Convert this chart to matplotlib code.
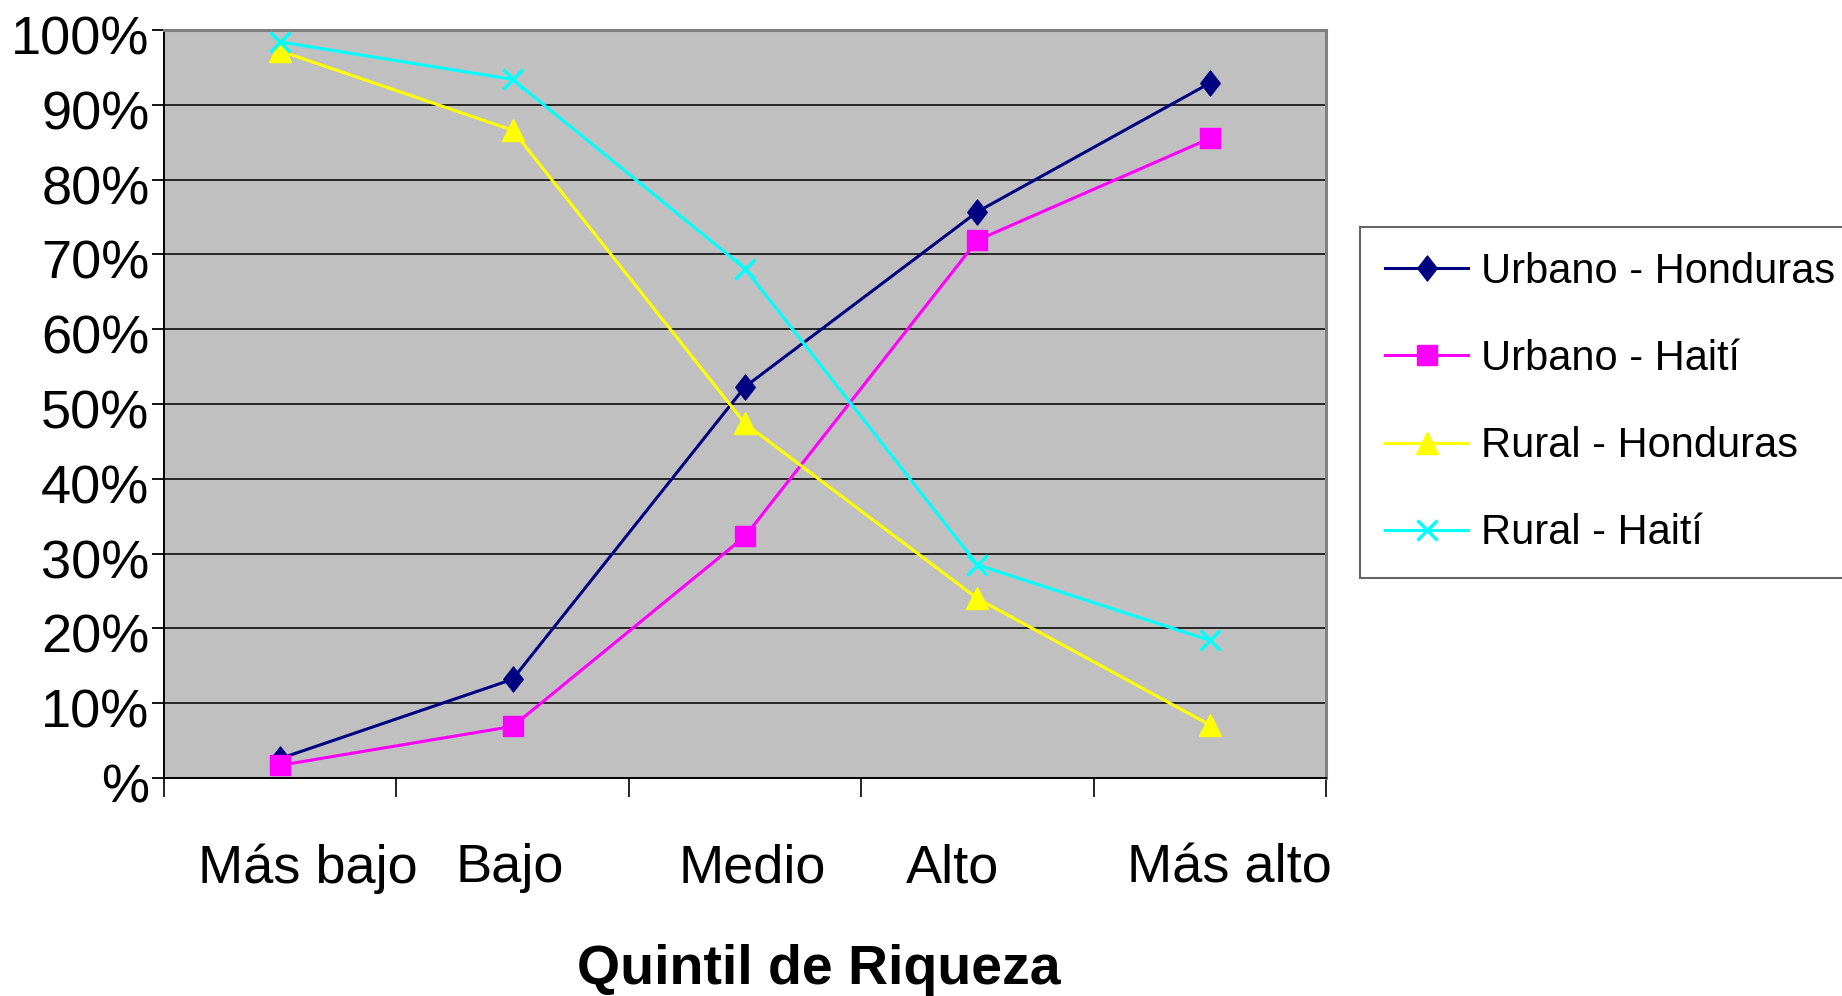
import numpy as np
import matplotlib
matplotlib.use("Agg")
import matplotlib.pyplot as plt
import matplotlib.transforms as mtransforms
from matplotlib.path import Path

# ------------------------------
# DATA
# ------------------------------

quintiles = ["Más bajo", "Bajo", "Medio", "Alto", "Más alto"]

urbano_honduras = [2.6, 13.2, 52.3, 75.7, 92.9]
urbano_haiti = [1.7, 6.9, 32.3, 71.9, 85.5]
rural_honduras = [97.2, 86.6, 47.4, 24.0, 7.1]
rural_haiti = [98.4, 93.4, 68.1, 28.5, 18.4]

series_labels = ["Urbano - Honduras", "Urbano - Haití", "Rural - Honduras", "Rural - Haití"]

y_ticks = [0, 10, 20, 30, 40, 50, 60, 70, 80, 90, 100]
y_ticklabels = ["%", "10%", "20%", "30%", "40%", "50%", "60%", "70%", "80%", "90%", "100%"]

# ------------------------------
# STYLE
# ------------------------------

plt.rcParams["font.family"] = ["Liberation Sans", "DejaVu Sans"]

# Excel-like tall diamond
diamond = Path([(0, 1), (0.78, 0), (0, -1), (-0.78, 0), (0, 1)],
               [Path.MOVETO, Path.LINETO, Path.LINETO, Path.LINETO, Path.CLOSEPOLY])

styles = [
    dict(color="#000080", marker=diamond, ms=18),
    dict(color="#FF00FF", marker="s", ms=14.5),
    dict(color="#FFFF00", marker="^", ms=16.5),
    dict(color="#00FFFF", marker="x", ms=15, mew=2.4),
]

fig = plt.figure(figsize=(18.42, 9.96), dpi=100)
ax = fig.add_axes([164 / 1842, 218 / 996, 1162 / 1842, 748 / 996])
ax.set_facecolor("#C0C0C0")

x = np.arange(len(quintiles))
for vals, label, st in zip([urbano_honduras, urbano_haiti, rural_honduras, rural_haiti],
                           series_labels, styles):
    ax.plot(x, vals, label=label, lw=2.2, color=st["color"], marker=st["marker"],
            ms=st["ms"], mfc=st["color"], mec=st["color"], mew=st.get("mew", 1),
            zorder=3)

ax.set_xlim(-0.5, len(quintiles) - 0.5)
ax.set_ylim(0, 100)

# y axis
ax.set_yticks(y_ticks)
ax.set_yticklabels(y_ticklabels, fontsize=39)
ax.tick_params(axis="y", length=9, width=1.3, pad=1.5, color="black")
ax.yaxis.grid(True, color="#1a1a1a", lw=1.3)
ax.set_axisbelow(True)
shift_down = mtransforms.ScaledTranslation(0, -5 / 100, fig.dpi_scale_trans)
for lbl in ax.get_yticklabels():
    lbl.set_transform(lbl.get_transform() + shift_down)

# x axis: ticks between categories, labels at categories
ax.set_xticks(np.arange(-0.5, len(quintiles), 1.0))
ax.set_xticklabels([])
ax.tick_params(axis="x", which="major", length=14, width=1.2, color="black")
ax.set_xticks(x, minor=True)
ax.set_xticklabels(quintiles, minor=True, fontsize=39)
ax.tick_params(axis="x", which="minor", length=0, pad=47)
# small nudges so labels sit where the original placed them (pixels)
label_nudge = [28, -3, 7, -25, 20]
for lbl, dx in zip(ax.get_xticklabels(minor=True), label_nudge):
    lbl.set_transform(lbl.get_transform() +
                      mtransforms.ScaledTranslation(dx / 100, 0, fig.dpi_scale_trans))

for side in ["left", "bottom"]:
    ax.spines[side].set_color("black")
    ax.spines[side].set_linewidth(1.4)
for side in ["top", "right"]:
    ax.spines[side].set_color("#808080")
    ax.spines[side].set_linewidth(2.2)

fig.text(819 / 1842, 1 - 970 / 996, "Quintil de Riqueza", fontsize=40,
         fontweight="bold", ha="center", va="center")

leg = fig.legend(loc="upper left", bbox_to_anchor=(1360 / 1842, 1 - 227 / 996),
                 fontsize=30, frameon=True, fancybox=False, borderaxespad=0,
                 borderpad=0.6, labelspacing=1.13, handlelength=2.0,
                 handletextpad=0.3)
leg.get_frame().set_edgecolor("#404040")
leg.get_frame().set_linewidth(1.5)

fig.savefig("out.png", dpi=100)
